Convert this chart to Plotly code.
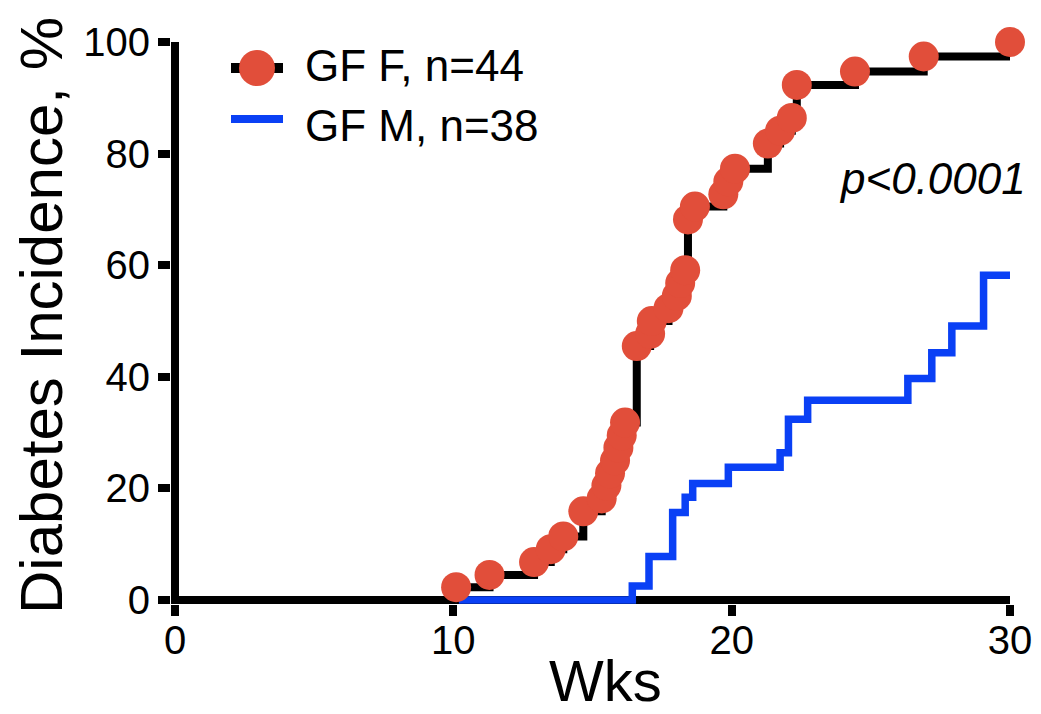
import plotly.graph_objects as go

# ---- data ----
f_weeks = [10.1, 11.3, 12.9, 13.5, 13.95, 14.67, 15.33, 15.5, 15.63, 15.81, 15.93, 16.05,
           16.17, 16.59, 17.07, 17.13, 17.73, 18.03, 18.15, 18.33, 18.43, 18.68, 19.7,
           19.88, 20.12, 21.3, 21.74, 22.16, 22.34, 24.43, 26.9, 30.0]
f_pct = [2.3, 4.5, 6.8, 9.1, 11.4, 15.9, 18.2, 20.5, 22.7, 25.0, 27.3, 29.5,
         31.8, 45.5, 47.7, 50.0, 52.3, 54.5, 56.8, 59.1, 68.2, 70.5, 72.7,
         75.0, 77.3, 81.8, 84.1, 86.4, 92.3, 94.7, 97.4, 100.0]

m_weeks = [10.2, 16.43, 17.03, 17.88, 18.33, 18.6, 19.88, 21.74, 22.04, 22.73,
           26.33, 27.19, 27.91, 29.05, 30.0]
m_pct = [0.0, 2.5, 7.8, 15.7, 18.4, 20.9, 23.8, 26.4, 32.4, 35.8,
         39.7, 44.3, 49.1, 58.2, 58.2]

x_ticks = [0, 10, 20, 30]
y_ticks = [0, 20, 40, 60, 80, 100]

legend_f = "GF F, n=44"
legend_m = "GF M, n=38"
p_text = "<i>p&lt;0.0001</i>"

RED = "#E14E3A"
BLUE = "#0A40F5"
FONT = "Liberation Sans, Arial, Helvetica, sans-serif"

fig = go.Figure()

# M first so the red dots sit on top
fig.add_trace(go.Scatter(
    x=m_weeks, y=m_pct, mode="lines", line=dict(shape="hv", color=BLUE, width=7.5),
    cliponaxis=False, showlegend=False, name=legend_m))

# F: black step line with red markers
fig.add_trace(go.Scatter(
    x=f_weeks, y=f_pct, mode="lines+markers", line=dict(shape="hv", color="black", width=8),
    marker=dict(size=30, color=RED, line=dict(width=0)),
    cliponaxis=False, showlegend=False, name=legend_f))

# The page body has an 8px margin, so the figure is drawn 8px smaller and
# offset; helpers below take positions in viewport pixels.
OFF = 8
VW, VH = 1041, 714
L, R, T, B = 171 - OFF, 31, 42 - OFF, 110
W, H = VW - OFF, VH - OFF
pw, ph = W - L - R, H - T - B

def px_x(px):
    return (px - OFF - L) / pw

def px_y(py):
    return (H - B - (py - OFF)) / ph

shapes = [
    # legend samples
    dict(type="line", xref="paper", yref="paper", x0=px_x(231), x1=px_x(283),
         y0=px_y(68), y1=px_y(68), line=dict(color="black", width=10)),
    dict(type="circle", xref="paper", yref="paper", xsizemode="pixel", ysizemode="pixel",
         xanchor=px_x(257), yanchor=px_y(68), x0=-18, x1=18, y0=-18, y1=18,
         fillcolor=RED, line=dict(width=0)),
    dict(type="line", xref="paper", yref="paper", x0=px_x(231), x1=px_x(283),
         y0=px_y(119), y1=px_y(119), line=dict(color=BLUE, width=8)),
]

annotations = [
    dict(text=legend_f, xref="paper", yref="paper", x=px_x(303), y=px_y(66),
         xanchor="left", yanchor="middle", showarrow=False,
         font=dict(family=FONT, size=44, color="black")),
    dict(text=legend_m, xref="paper", yref="paper", x=px_x(303), y=px_y(125),
         xanchor="left", yanchor="middle", showarrow=False,
         font=dict(family=FONT, size=44, color="black")),
    dict(text=p_text, xref="paper", yref="paper", x=px_x(1028), y=px_y(178),
         xanchor="right", yanchor="middle", showarrow=False,
         font=dict(family=FONT, size=44, color="black")),
    dict(text="Wks", xref="paper", yref="paper", x=px_x(605), y=px_y(680),
         xanchor="center", yanchor="middle", showarrow=False,
         font=dict(family=FONT, size=58, color="black")),
    dict(text="Diabetes Incidence, %", xref="paper", yref="paper", x=px_x(41), y=px_y(316),
         xanchor="center", yanchor="middle", showarrow=False, textangle=-90,
         font=dict(family=FONT, size=60, color="black")),
]

fig.update_layout(
    width=W, height=H,
    margin=dict(l=L, r=R, t=T, b=B, pad=0, autoexpand=False),
    paper_bgcolor="white", plot_bgcolor="white",
    showlegend=False,
    shapes=shapes, annotations=annotations,
    font=dict(family=FONT, color="black"),
)

fig.update_xaxes(
    range=[-4 / 27.83, 30], tickvals=x_ticks, ticktext=[str(v) for v in x_ticks],
    automargin=False, ticklabelstandoff=-10,
    showgrid=False, showline=False, zeroline=True, zerolinecolor="black", zerolinewidth=8,
    ticks="outside", ticklen=11, tickwidth=8, tickcolor="black",
    tickfont=dict(family=FONT, size=40, color="black"),
)
fig.update_yaxes(
    range=[-4 / 5.58, 100], tickvals=y_ticks, ticktext=[str(v) for v in y_ticks],
    automargin=False,
    showgrid=False, showline=False, zeroline=True, zerolinecolor="black", zerolinewidth=8,
    ticks="outside", ticklen=12, tickwidth=8, tickcolor="black",
    tickfont=dict(family=FONT, size=40, color="black"),
)

fig.write_html("out.html")
